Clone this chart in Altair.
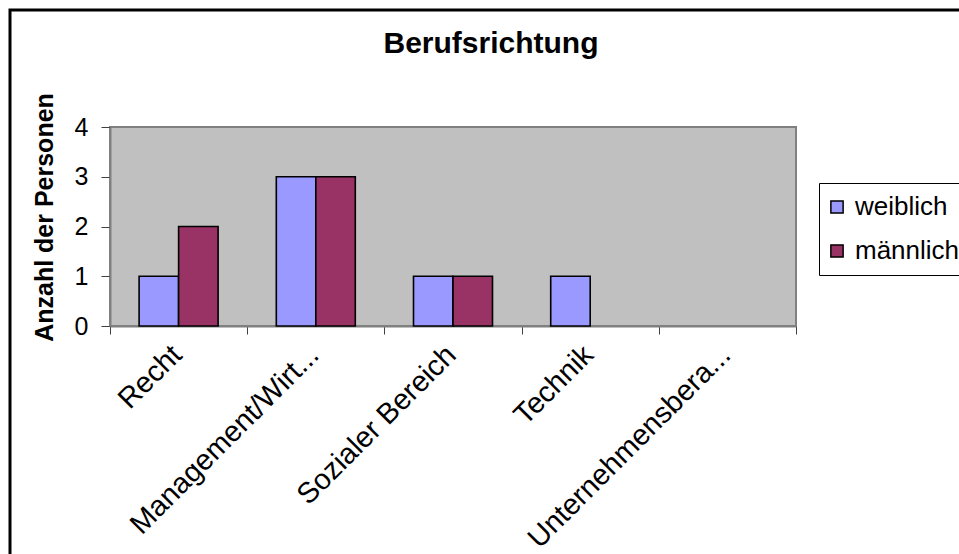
import altair as alt
import pandas as pd

categories = ["Recht", "Management/Wirt...", "Sozialer Bereich", "Technik", "Unternehmensbera..."]
series = ["weiblich", "männlich"]
weiblich = [1, 3, 1, 1, 0]
maennlich = [2, 3, 1, 0, 0]
colors = ["#9999FF", "#993366"]
y_ticks = [0, 1, 2, 3, 4]

rows = []
for i, c in enumerate(categories):
    rows.append({"Kategorie": c, "Geschlecht": series[0], "Anzahl": weiblich[i]})
    rows.append({"Kategorie": c, "Geschlecht": series[1], "Anzahl": maennlich[i]})
df = pd.DataFrame(rows)

FONT = "Liberation Sans"

frame = alt.Chart(pd.DataFrame({"f": [0]})).mark_rect(
    fill="transparent", stroke="black", strokeWidth=3
).encode(
    x=alt.value(-100), x2=alt.value(880), y=alt.value(-117), y2=alt.value(450)
)

bars = alt.Chart(df).mark_bar(stroke="black", strokeWidth=1.6).encode(
    x=alt.X(
        "Kategorie:N",
        sort=categories,
        scale=alt.Scale(domain=categories, paddingInner=0, paddingOuter=0),
        axis=alt.Axis(
            title=None,
            labelAngle=-45,
            labelAlign="right",
            labelBaseline="top",
            labelFontSize=29,
            labelFont=FONT,
            labelColor="black",
            labelPadding=6,
            labelOffset=-12,
            labelLimit=0,
            tickBand="extent",
            tickSize=8,
            tickColor="#404040",
            domainColor="#808080",
            domainWidth=2,
        ),
    ),
    xOffset=alt.XOffset(
        "Geschlecht:N",
        sort=series,
        scale=alt.Scale(domain=series, paddingOuter=0.737, paddingInner=0),
    ),
    y=alt.Y(
        "Anzahl:Q",
        scale=alt.Scale(domain=[0, 4], nice=False),
        axis=alt.Axis(
            values=y_ticks,
            format="d",
            grid=False,
            title="Anzahl der Personen",
            titleFont=FONT,
            titleFontSize=25,
            titleFontWeight="bold",
            titleColor="black",
            titleAngle=270,
            titleAlign="center",
            titleBaseline="alphabetic",
            titleX=-58,
            titleY=90,
            labelFontSize=25,
            labelFont=FONT,
            labelColor="black",
            labelPadding=13,
            tickSize=9,
            tickColor="#404040",
            domainColor="#808080",
            domainWidth=2,
        ),
    ),
    color=alt.Color(
        "Geschlecht:N",
        sort=series,
        scale=alt.Scale(domain=series, range=colors),
        legend=alt.Legend(
            title=None,
            orient="none",
            legendX=709,
            legendY=56,
            strokeColor="black",
            fillColor="white",
            padding=11,
            symbolType="square",
            symbolSize=150,
            symbolOffset=-6,
            symbolStrokeColor="black",
            symbolStrokeWidth=1.5,
            symbolOpacity=1,
            labelFont=FONT,
            labelFontSize=26,
            labelColor="black",
            labelOffset=5,
            rowPadding=18,
        ),
    ),
).transform_filter("datum.Anzahl > 0")

chart = alt.layer(frame, bars).properties(
    width=686,
    height=199,
    title=alt.TitleParams(
        "Berufsrichtung",
        font=FONT,
        fontSize=30,
        fontWeight="bold",
        color="black",
        anchor="middle",
        frame="group",
        dx=38,
        baseline="alphabetic",
        offset=-74,
    ),
    autosize=alt.AutoSizeParams(type="none"),
    padding={"left": 110, "top": 127, "right": 163, "bottom": 228},
    background="white",
).configure_view(
    fill="#C0C0C0", stroke="#808080", strokeWidth=2
)

chart.save("out.html", embed_options={"renderer": "svg", "actions": False})
